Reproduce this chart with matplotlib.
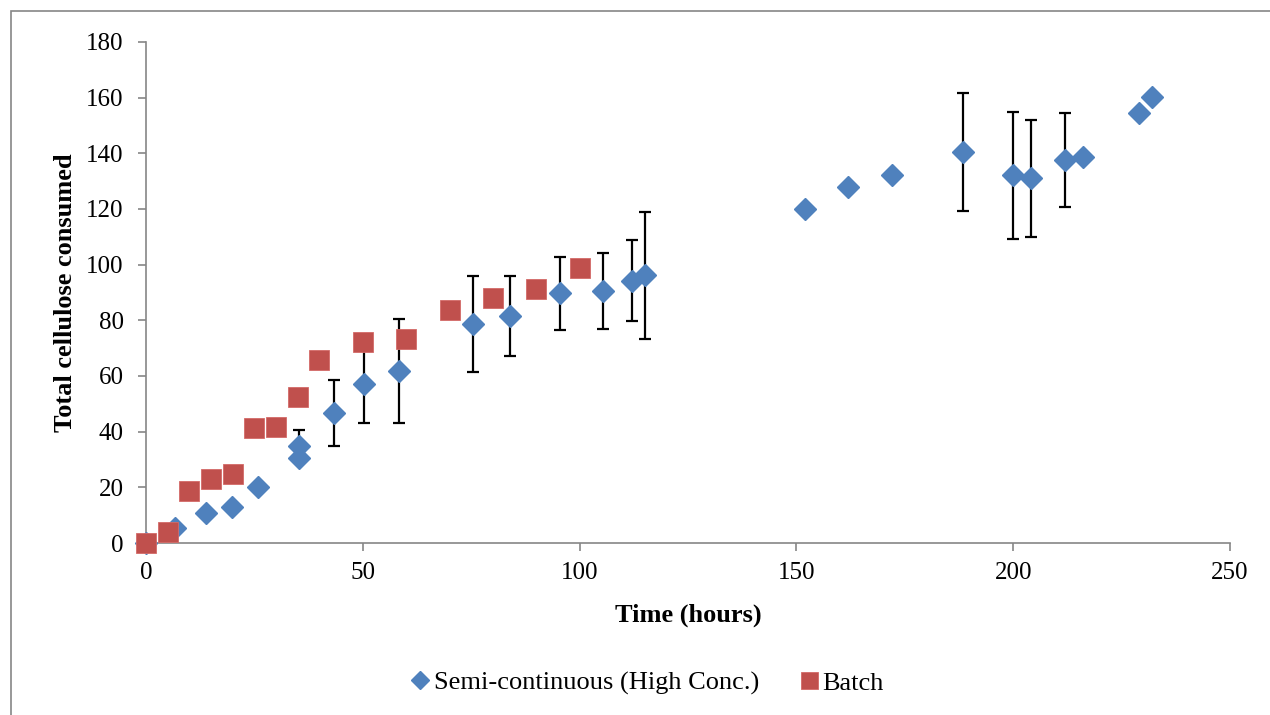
import matplotlib
matplotlib.use("Agg")
from matplotlib import pyplot as plt
from matplotlib.patches import Rectangle

# semi-continuous run (high concentration), with error bars where measured
semi_time = [0, 6.7, 13.8, 19.8, 25.8, 35.3, 35.3, 43.4, 50.3, 58.4, 75.3, 83.9,
             95.5, 105.5, 112.0, 115.1, 152.0, 162.0, 172.0, 188.5, 200.0, 204.1,
             212.0, 216.0, 229.0, 232.1]
semi_consumed = [0, 5.4, 10.8, 12.9, 20.1, 30.5, 34.9, 46.7, 57.0, 61.8, 78.6, 81.7,
                 89.7, 90.5, 94.3, 96.2, 119.9, 127.8, 132.2, 140.6, 132.2, 131.0,
                 137.6, 138.6, 154.6, 160.2]
semi_err = [0, 0, 0, 0, 0, 0, 5.7, 11.8, 13.8, 18.6, 17.2, 14.4,
            13.0, 13.7, 14.7, 22.8, 0, 0, 0, 21.2, 22.8, 20.9,
            16.9, 0, 0, 0]

# batch run
batch_time = [0, 5, 10, 15, 20, 25, 30, 35, 40, 50, 60, 70, 80, 90, 100]
batch_consumed = [0, 3.8, 18.8, 22.9, 24.7, 41.4, 41.8, 52.3, 65.8, 72.3, 73.2,
                  83.6, 88.1, 91.2, 98.7]

plt.rcParams["font.family"] = ["Liberation Serif", "DejaVu Serif"]
plt.rcParams["font.size"] = 18

fig = plt.figure(figsize=(12.7, 7.15), dpi=100)
ax = fig.add_axes([146 / 1270, 1 - 543 / 715, 1084 / 1270, 501 / 715])

# chart area border
fig.patches.append(Rectangle((11 / 1270, -0.1), 1.2, 1.1 - 11 / 715,
                             transform=fig.transFigure, fill=False,
                             edgecolor="#868686", linewidth=1.2))

# error bars first so the markers sit on top
err_x = [t for t, e in zip(semi_time, semi_err) if e > 0]
err_y = [c for c, e in zip(semi_consumed, semi_err) if e > 0]
err_v = [e for e in semi_err if e > 0]
ax.errorbar(err_x, err_y, yerr=err_v, fmt="none", ecolor="black",
            elinewidth=1.6, capsize=4.5, capthick=1.6, zorder=2, clip_on=False)

ax.plot(semi_time, semi_consumed, linestyle="none", marker="D", markersize=10.8,
        color="#4F81BD", markeredgecolor="#4F81BD",
        label="Semi-continuous (High Conc.)", zorder=3, clip_on=False)
ax.plot(batch_time, batch_consumed, linestyle="none", marker="s", markersize=14.4,
        color="#C0504D", markeredgecolor="#D46A67", markeredgewidth=0.6,
        label="Batch", zorder=4, clip_on=False)

ax.set_xlim(0, 250)
ax.set_ylim(0, 180)
ax.set_xticks(range(0, 251, 50))
ax.set_yticks(range(0, 181, 20))

for side in ["top", "right"]:
    ax.spines[side].set_visible(False)
for side in ["left", "bottom"]:
    ax.spines[side].set_color("#868686")
    ax.spines[side].set_linewidth(1.2)
ax.tick_params(direction="out", length=6, width=1.2, color="#868686",
               labelsize=18)
ax.tick_params(axis="x", pad=8)
ax.tick_params(axis="y", pad=10)

ax.set_xlabel("Time (hours)", fontweight="bold", fontsize=19, labelpad=14)
ax.set_ylabel("Total cellulose consumed", fontweight="bold", fontsize=19, labelpad=7)

fig.legend(loc="center", bbox_to_anchor=(648 / 1270, 1 - 683 / 715), ncol=2,
           frameon=False, fontsize=19, handlelength=0.6, handletextpad=0.2,
           columnspacing=1.6, markerscale=0.85)

fig.savefig("out.png", dpi=100)
